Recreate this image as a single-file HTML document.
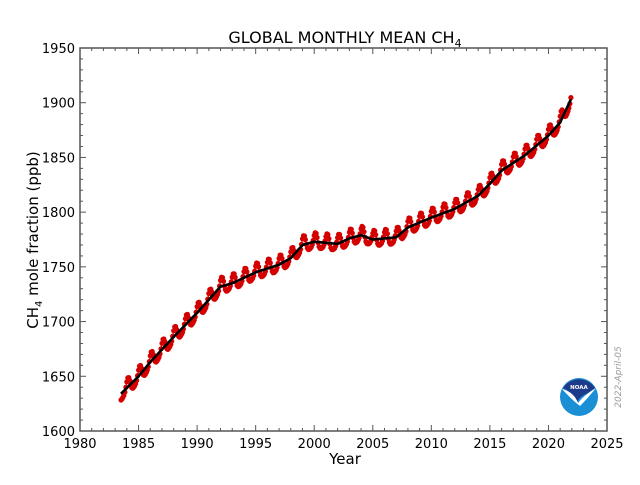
<!DOCTYPE html>
<html><head><style>
body{margin:0;background:#fff;}
svg text{font-family:"DejaVu Sans","Liberation Sans",sans-serif;}
</style></head><body>
<svg id="s" width="640" height="480" xmlns="http://www.w3.org/2000/svg">
<rect width="640" height="480" fill="#fff"/>
<text x="345" y="43" font-size="16" text-anchor="middle">GLOBAL MONTHLY MEAN CH<tspan font-size="11" dy="4">4</tspan></text>
<g id="ax"></g>
<g id="data"></g>
<rect x="80" y="48" width="527" height="383" fill="none" stroke="#555" stroke-width="1.5"/>
<text x="345" y="464" font-size="15" text-anchor="middle">Year</text>
<text transform="translate(38,240) rotate(-90)" font-size="15" text-anchor="middle">CH<tspan font-size="10" dy="4">4</tspan><tspan dy="-4"> mole fraction (ppb)</tspan></text>
<text transform="translate(621,377) rotate(-90)" font-size="9" fill="#999" text-anchor="middle" font-style="italic">2022-April-05</text>
<circle cx="579" cy="397" r="19" fill="#1a8fd6"/>
<path d="M563,388 A19,19 0 0 1 595,388 L588,393 Q580,396 577,402 Q572,392 563,388Z" fill="#1e3a8a"/>
<path d="M562,389 Q574,392 578,403 Q584,395 596,388 Q588,398 580,406 Q572,400 562,389Z" fill="#fff"/>
<text x="579" y="389" font-size="5.5" fill="#fff" text-anchor="middle" font-weight="bold">NOAA</text>
</svg>
<script>
const X=y=>80+(y-1980)*527/45, Y=v=>431-(v-1600)*383/350;
let ax='';
for(let y=1980;y<=2025;y++){const x=X(y);const L=y%5==0?6:3;
ax+=`<line x1="${x}" y1="431" x2="${x}" y2="${431-L}" stroke="#555"/><line x1="${x}" y1="48" x2="${x}" y2="${48+L}" stroke="#555"/>`;
if(y%5==0)ax+=`<text x="${x}" y="448" font-size="13" text-anchor="middle">${y}</text>`;}
for(let v=1600;v<=1950;v+=10){const y=Y(v);const L=v%50==0?6:3;
ax+=`<line x1="80" y1="${y}" x2="${80+L}" y2="${y}" stroke="#555"/><line x1="607" y1="${y}" x2="${607-L}" y2="${y}" stroke="#555"/>`;
if(v%50==0)ax+=`<text x="75" y="${y+5}" font-size="13" text-anchor="end">${v}</text>`;}
document.getElementById('ax').innerHTML=ax;
const T=[[1983.5,1634],[1985,1650],[1986,1663],[1988,1686],[1990,1708],[1991,1720],[1992,1732],[1993,1735],[1995,1745],[1997,1752],[1998,1758],[1999,1770],[2000,1773],[2002,1771],[2003,1776],[2004,1779],[2005,1775],[2007,1777],[2008,1786],[2010,1795],[2012,1803],[2014,1815],[2015,1826],[2016,1838],[2018,1852],[2020,1870],[2021,1882],[2022,1905]];
function tr(t){for(let i=0;i<T.length-1;i++)if(t<=T[i+1][0]){const f=(t-T[i][0])/(T[i+1][0]-T[i][0]);return T[i][1]+f*(T[i+1][1]-T[i][1]);}return T[T.length-1][1];}
let tp='',dp='',dots='';
for(let t=1983.5;t<=2021.95;t+=1/12){
const v=tr(t);tp+=`${X(t).toFixed(1)},${Y(v).toFixed(1)} `;
const s=v+7*Math.cos(2*Math.PI*(t-0.1))+1.5*Math.sin(4*Math.PI*t);
const px=X(t).toFixed(1),py=Y(s).toFixed(1);dp+=`${px},${py} `;
dots+=`<circle cx="${px}" cy="${py}" r="2.6" fill="#d40000"/>`;}
document.getElementById('data').innerHTML=`<polyline points="${dp}" fill="none" stroke="#d40000" stroke-width="1.2"/>${dots}<polyline points="${tp}" fill="none" stroke="#000" stroke-width="2.6"/>`;
</script>
</body></html>
